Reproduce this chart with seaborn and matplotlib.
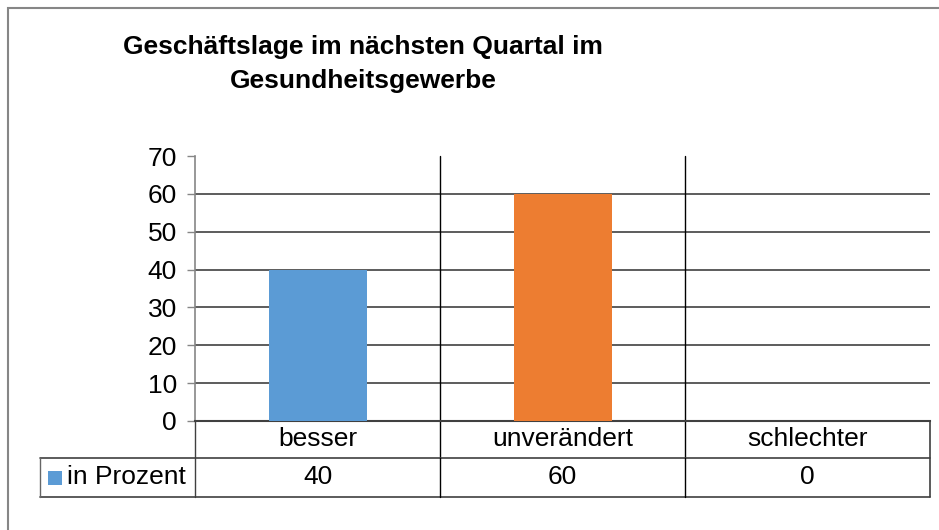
import numpy as np
import pandas as pd
import matplotlib.pyplot as plt
import matplotlib.transforms as mtransforms
from matplotlib.patches import Rectangle
import seaborn as sns

categories = ["besser", "unverändert", "schlechter"]
values = [40, 60, 0]
series_name = "in Prozent"
bar_colors = ["#5B9BD5", "#ED7D31", "#A5A5A5"]
y_ticks = [0, 10, 20, 30, 40, 50, 60, 70]
title = "Geschäftslage im nächsten Quartal im\nGesundheitsgewerbe"

sns.set_style("white")
plt.rcParams['font.family'] = ['Liberation Sans', 'DejaVu Sans']
plt.rcParams['text.color'] = 'black'
plt.rcParams['ytick.labelcolor'] = 'black'

W, H = 939, 530
fig = plt.figure(figsize=(W / 100, H / 100), dpi=100, facecolor='white')

# plot area in pixels
px_left, px_right, px_top, px_bottom = 195, 930, 156, 421
ax = fig.add_axes([px_left / W, 1 - px_bottom / H,
                   (px_right - px_left) / W, (px_bottom - px_top) / H])

df = pd.DataFrame({"cat": categories, "val": values})
sns.barplot(data=df, x="cat", y="val", hue="cat", palette=bar_colors,
            width=0.4, legend=False, ax=ax, saturation=1, zorder=3,
            linewidth=0, edgecolor='none')

fs = 19
ax.set_ylim(0, 70)
ax.set_xlim(-0.5, len(categories) - 0.5)
ax.set_yticks(y_ticks)
ax.set_yticklabels([str(t) for t in y_ticks], fontsize=fs, color='black')
ax.set_xticks([])
ax.set_xlabel("")
ax.set_ylabel("")
ax.tick_params(axis='y', length=6, width=1, color='#868686', pad=7, direction='out', left=True)

for side in ["top", "right"]:
    ax.spines[side].set_visible(False)
ax.spines["left"].set_color('#868686')
ax.spines["left"].set_linewidth(1.2)
ax.spines["bottom"].set_color('#404040')
ax.spines["bottom"].set_linewidth(1.5)

# horizontal gridlines (not at top)
for t in y_ticks[1:-1]:
    ax.axhline(t, color='#303030', lw=1.1, zorder=1)

# vertical lines between categories, continued into table
trans = mtransforms.blended_transform_factory(ax.transData, ax.transAxes)
ax_h = px_bottom - px_top
row1 = (458 - px_bottom) / ax_h
row2 = (497 - px_bottom) / ax_h
for i in range(1, len(categories)):
    ax.plot([i - 0.5, i - 0.5], [-row1, 1], color='black', lw=1.0,
            transform=trans, clip_on=False, zorder=2)

# data table below plot
cat_px = (px_right - px_left) / len(categories)
label_left = -0.5 - (px_left - 40) / cat_px
right = len(categories) - 0.5
lc = '#404040'
ax.plot([-0.5, -0.5], [0, -row2], color='#404040', lw=1.0, transform=trans, clip_on=False)
ax.plot([right, right], [0, -row2], color=lc, lw=1.2, transform=trans, clip_on=False)
ax.plot([label_left, right], [-row1, -row1], color=lc, lw=1.2, transform=trans, clip_on=False)
ax.plot([label_left, right], [-row2, -row2], color=lc, lw=1.2, transform=trans, clip_on=False)
ax.plot([label_left, label_left], [-row1, -row2], color='#666666', lw=1.0, transform=trans, clip_on=False)
ax.plot([-0.5, right], [0, 0], color=lc, lw=1.2, transform=trans, clip_on=False)
for i in range(1, len(categories)):
    ax.plot([i - 0.5, i - 0.5], [-row1, -row2], color='black', lw=1.0,
            transform=trans, clip_on=False)

for i, (c, v) in enumerate(zip(categories, values)):
    ax.text(i, -row1 / 2, c, ha='center', va='center', fontsize=fs,
            transform=trans, clip_on=False)
    ax.text(i, -(row1 + row2) / 2, str(v), ha='center', va='center', fontsize=fs,
            transform=trans, clip_on=False)

# legend key + series name
key_x = label_left + 8 / cat_px
ax.add_patch(Rectangle((key_x, -(row1 + row2) / 2 - 7 / ax_h), 14 / cat_px, 14 / ax_h,
                       facecolor=bar_colors[0], edgecolor='none',
                       transform=trans, clip_on=False))
ax.text(label_left + 27 / cat_px, -(row1 + row2) / 2, series_name, ha='left', va='center',
        fontsize=fs, transform=trans, clip_on=False)

# title
fig.text(363 / W, 1 - 64 / H, title, ha='center', va='center', fontsize=19,
         fontweight='bold', linespacing=1.5)

# outer chart border
fig.patches.append(Rectangle((7.5 / W, -0.1), 1.2, (H - 7.5) / H + 0.1, fill=False,
                             edgecolor='#868686', lw=1.5, transform=fig.transFigure))

fig.savefig("out.png", dpi=100, facecolor='white')
